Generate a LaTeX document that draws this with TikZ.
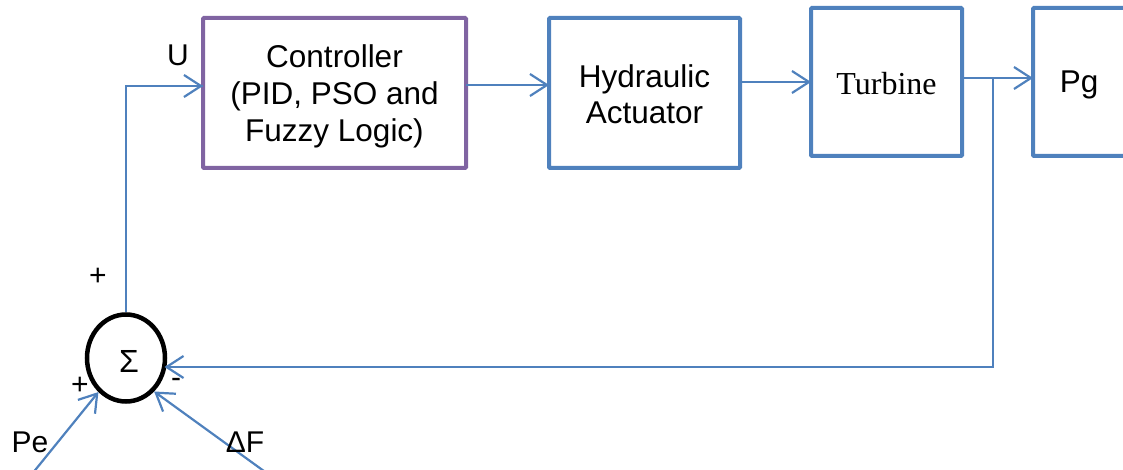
\documentclass[tikz,border=0pt]{standalone}
\usepackage{fontspec}
\setmainfont{Liberation Sans}
\newfontfamily\timesfont{Liberation Serif}
\usetikzlibrary{arrows.meta,shapes.geometric}
\definecolor{lineblue}{RGB}{79,129,189}
\definecolor{ctrlpurple}{RGB}{128,100,162}
\begin{document}
\begin{tikzpicture}[x=1pt,y=-1pt,
  block/.style={draw=lineblue,line width=4pt,rounded corners=1pt,inner sep=0pt,outer sep=0pt},
  btext/.style={align=center,inner sep=0pt,font=\fontsize{31.5}{37}\selectfont},
  conn/.style={draw=lineblue,line width=2.2pt,-{Straight Barb[length=17pt,width=22pt,line width=2.2pt]}},
  wire/.style={draw=lineblue,line width=2.2pt},
  lbl/.style={font=\fontsize{30}{37}\selectfont,inner sep=0pt}]
\clip (0,0) rectangle (1123,470);
\useasboundingbox (0,0) rectangle (1123,470);

% blocks
\node[block,draw=ctrlpurple,minimum width=263pt,minimum height=150pt] (ctrl) at (334.5,93) {};
\node[block,minimum width=191pt,minimum height=150pt] (hyd) at (644.5,93) {};
\node[block,minimum width=151pt,minimum height=148pt] (turb) at (886.5,82) {};
\node[block,minimum width=92pt,minimum height=148pt] (pg) at (1079,82) {};

% block captions
\node[btext] (ctrlT) at (334.5,96) {Controller\\(PID, PSO and\\Fuzzy Logic)};
\node[btext,font=\fontsize{31.5}{36}\selectfont] (hydT) at (644.5,94) {Hydraulic\\Actuator};
\node[btext,font=\timesfont\fontsize{32}{37}\selectfont] (turbT) at (886.5,84) {Turbine};
\node[btext] (pgT) at (1079,85) {Pg};

% summing junction
\node[draw=black,line width=4.5pt,ellipse,inner sep=0pt,minimum width=78pt,minimum height=87pt] (sum) at (126,358) {};
\node[lbl,font=\fontsize{32}{36}\selectfont] (sumT) at (129,361) {Σ};

% forward path
\draw[wire] (sum.north) |- coordinate (ucorner) ([yshift=7pt]ctrl.west);
\draw[conn] (ucorner) -- ([yshift=7pt]ctrl.west);
\draw[conn] ([yshift=8pt]ctrl.east) -- ([yshift=8pt]hyd.west);
\draw[conn] (hyd.east |- turb.west) -- (turb.west);
\draw[conn] ([yshift=4pt]turb.east) -- ([yshift=4pt]pg.west);

% feedback path
\coordinate (tap) at (993,78);
\coordinate (sumR) at (164.5,367);
\draw[conn] (tap) |- (sumR);

% external inputs
\coordinate (peS) at (32,474);
\coordinate (dfS) at (268,474);
\draw[conn] (peS) -- (sum.231);
\draw[conn] (dfS) -- (sum.310);

% labels
\node[lbl] (uL) at (178,55) {U};
\node[lbl] (plusTop) at (98,277) {+};
\node[lbl] (plusL) at (80,386) {+};
\node[lbl] (minusR) at (176,383) {-};
\node[lbl] (peL) at (30,442) {Pe};
\node[lbl] (dfL) at (245,442) {ΔF};
\end{tikzpicture}
\end{document}
